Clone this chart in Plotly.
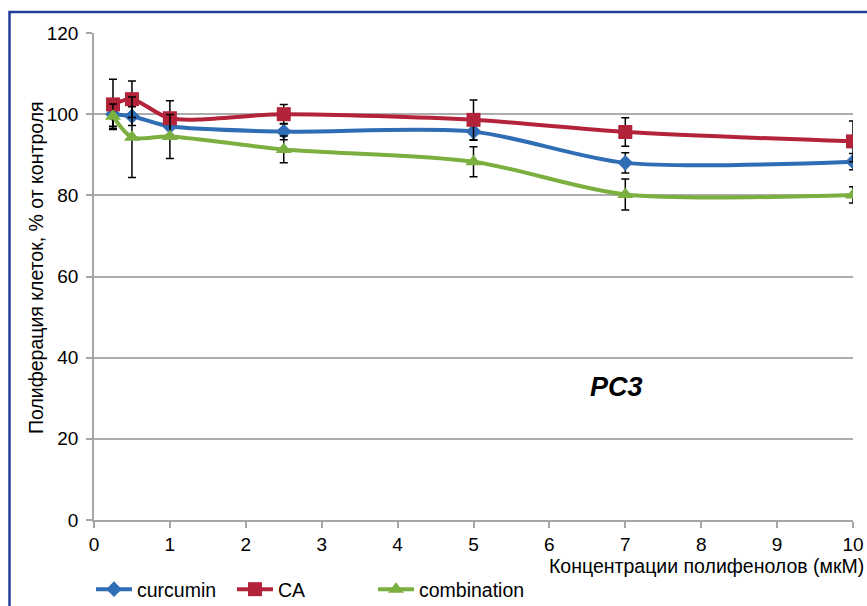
import plotly.graph_objects as go

conc = [0.25, 0.5, 1, 2.5, 5, 7, 10]
curcumin = [100.0, 99.5, 97.0, 95.7, 95.7, 88.0, 88.3]
curcumin_err = [3.0, 2.3, 2.0, 2.0, 2.1, 2.5, 2.0]
ca = [102.4, 103.7, 99.0, 100.0, 98.6, 95.6, 93.3]
ca_err = [6.2, 4.5, 4.3, 2.4, 4.9, 3.5, 5.0]
combination = [99.5, 94.3, 94.5, 91.3, 88.3, 80.2, 80.1]
combination_err = [3.0, 9.9, 5.4, 3.3, 3.7, 3.8, 2.0]

x_ticks = list(range(0, 11))
y_ticks = [0, 20, 40, 60, 80, 100, 120]

FONT = "Liberation Sans, Arial, sans-serif"
W, H = 867, 606

# plot area in page pixels
PL, PR, PT, PB = 94, 853, 33, 520
PW, PH = PR - PL, PB - PT

def px(x):
    return (x - PL) / PW

def py(y):
    return (PB - y) / PH

fig = go.Figure()

def add(name, y, err, color, symbol, size, legend):
    fig.add_trace(go.Scatter(
        x=conc, y=y, name=name, mode="lines+markers", legend=legend,
        line=dict(color=color, width=4, shape="spline", smoothing=0.8),
        marker=dict(symbol=symbol, size=size, color=color),
        error_y=dict(type="data", array=err, visible=True, color="#000000",
                     thickness=1.5, width=4),
    ))

add("curcumin", curcumin, curcumin_err, "#2F6DB5", "diamond", 12, "legend")
add("CA", ca, ca_err, "#B3243A", "square", 14, "legend2")
add("combination", combination, combination_err, "#7BAF3F", "triangle-up", 14, "legend3")

fig.add_annotation(x=6.89, y=32.7, text="<b><i>PC3</i></b>", showarrow=False,
                   font=dict(family=FONT, size=27, color="#000000"))

fig.add_annotation(xref="paper", yref="paper", x=px(866), y=py(566),
                   xanchor="right", yanchor="middle", showarrow=False,
                   text="Концентрации полифенолов (мкМ)",
                   font=dict(family=FONT, size=19.5, color="#000000"))

fig.add_annotation(xref="paper", yref="paper", x=px(36), y=py(268),
                   xanchor="center", yanchor="middle", showarrow=False,
                   textangle=-90,
                   text="Полиферация клеток, % от контроля",
                   font=dict(family=FONT, size=19.5, color="#000000"))

# outer chart border (dark blue frame)
fig.add_shape(type="rect", xref="paper", yref="paper",
              x0=px(9.5), x1=px(890), y0=py(640), y1=py(12),
              line=dict(color="#22409A", width=2.5), fillcolor="rgba(0,0,0,0)",
              layer="below")

def leg(xpage):
    return dict(orientation="h", xref="container", yref="container",
                x=(xpage - 6) / W, xanchor="left",
                y=1 - 570 / H, yanchor="top",
                font=dict(family=FONT, size=19.5, color="#000000"),
                bgcolor="rgba(0,0,0,0)", itemwidth=36)

fig.update_layout(
    width=W, height=H,
    margin=dict(l=PL, r=W - PR, t=PT, b=H - PB, autoexpand=False),
    paper_bgcolor="white", plot_bgcolor="white",
    font=dict(family=FONT, color="#000000"),
    showlegend=True,
    legend=leg(97),
    legend2=leg(238),
    legend3=leg(379),
    xaxis=dict(range=[0, 10], tickvals=x_ticks, ticktext=[str(v) for v in x_ticks],
               showgrid=False, zeroline=False, automargin=False,
               showline=True, linecolor="#A6A6A6", linewidth=1.5,
               ticks="outside", ticklen=6, tickcolor="#A6A6A6", tickwidth=1.5,
               ticklabelstandoff=0,
               tickfont=dict(family=FONT, size=19, color="#000000")),
    yaxis=dict(range=[0, 120], tickvals=y_ticks, ticktext=[str(v) for v in y_ticks],
               showgrid=True, gridcolor="#ADADAD", gridwidth=1.5, zeroline=False,
               automargin=False,
               showline=True, linecolor="#A6A6A6", linewidth=1.5,
               ticks="outside", ticklen=6, tickcolor="#A6A6A6", tickwidth=1.5,
               ticklabelstandoff=4,
               tickfont=dict(family=FONT, size=19, color="#000000")),
)

fig.write_html(
    "out.html",
    config={"displayModeBar": False},
    post_script="document.body.style.margin='0';document.body.style.overflow='hidden';",
)
